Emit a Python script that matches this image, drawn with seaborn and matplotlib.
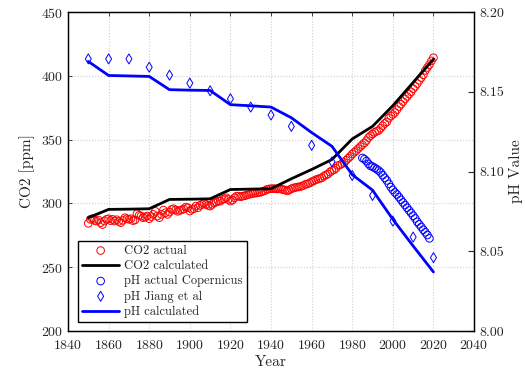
import matplotlib
matplotlib.use("Agg")
import matplotlib.pyplot as plt
import seaborn as sns
import numpy as np

# === Daten ===
years_co2 = list(range(1850, 2021))
co2_actual = [
    284.4, 287.5, 288.0, 286.7, 286.2, 287.0, 284.9, 283.4, 286.2, 287.5,
    288.0, 286.5, 287.5, 286.2, 287.2, 285.9, 284.9, 286.7, 288.8, 288.0,
    287.5, 288.0, 286.5, 287.0, 291.9, 290.6, 290.1, 288.8, 289.3, 290.1,
    288.0, 289.6, 291.4, 293.8, 290.1, 288.8, 291.4, 294.8, 292.7, 291.4,
    293.2, 295.3, 295.8, 294.8, 293.8, 294.5, 295.0, 295.6, 297.1, 296.6,
    294.0, 295.3, 295.8, 297.9, 296.6, 298.4, 299.2, 300.0, 299.2, 298.4,
    297.9, 299.2, 300.5, 301.0, 301.8, 301.8, 303.1, 303.6, 304.4, 303.1,
    301.8, 302.6, 304.4, 305.7, 305.7, 305.2, 305.7, 306.0, 306.5, 307.0,
    307.5, 307.8, 308.0, 308.2, 308.5, 308.8, 309.5, 310.0, 311.0, 311.3,
    311.5, 311.6, 311.5, 311.3, 311.5, 311.2, 310.8, 310.5, 309.8, 310.5,
    311.5, 312.0, 312.5, 312.8, 313.0, 313.5, 314.0, 315.0, 315.3, 316.0,
    317.0, 317.6, 318.5, 319.0, 319.6, 320.0, 321.4, 322.2, 323.0, 324.6,
    325.7, 326.3, 327.5, 329.7, 330.2, 331.1, 332.0, 333.8, 335.4, 336.8,
    338.7, 340.1, 341.4, 343.0, 344.6, 346.0, 347.4, 349.2, 351.6, 353.1,
    354.4, 355.7, 356.5, 357.2, 358.9, 360.9, 362.7, 363.8, 366.8, 368.5,
    369.7, 371.3, 373.5, 375.9, 377.7, 379.8, 381.9, 383.8, 385.6, 387.4,
    389.9, 391.7, 393.9, 396.5, 398.6, 400.8, 404.2, 406.5, 408.7, 411.7,
    414.2,
]

years_calc = [1850, 1860, 1870, 1880, 1890, 1900, 1910, 1920, 1930, 1940,
              1950, 1960, 1970, 1980, 1990, 2000, 2010, 2020]
co2_calc = [288.8, 295.3, 295.5, 295.8, 303.1, 303.3, 303.6, 310.9, 311.2, 311.5,
            319.3, 326.6, 334.4, 350.5, 360.4, 376.6, 394.8, 413.0]
ph_calc = [8.169, 8.1602, 8.1599, 8.1596, 8.1513, 8.1510, 8.1508, 8.1419, 8.1412, 8.1404,
           8.1337, 8.1244, 8.1158, 8.098, 8.0883, 8.070, 8.0533, 8.037]
ph_jiang = [8.1706, 8.1706, 8.1706, 8.1654, 8.1604, 8.1554, 8.1506, 8.1456, 8.1404, 8.1354,
            8.1283, 8.1164, 8.1061, 8.0975, 8.085, 8.0689, 8.0589, 8.046]

years_cop = list(range(1985, 2019))
ph_copernicus = [
    8.1085, 8.1077, 8.1065, 8.1048, 8.1035, 8.1031, 8.1023, 8.1015, 8.1006, 8.0994,
    8.0977, 8.0960, 8.0944, 8.0923, 8.0902, 8.0885, 8.0869, 8.0856, 8.0840, 8.0823,
    8.0806, 8.0790, 8.0773, 8.0756, 8.0740, 8.0723, 8.0706, 8.0685, 8.0669, 8.0652,
    8.0635, 8.0619, 8.0602, 8.0581,
]

# === Plot ===
sns.set_style("white")
plt.rcParams["font.family"] = ["cmr10", "DejaVu Serif"]
plt.rcParams["axes.formatter.use_mathtext"] = True
plt.rcParams["mathtext.fontset"] = "cm"

fig = plt.figure(figsize=(5.25, 3.75), dpi=100)
ax = fig.add_axes([0.1295, 0.1173, 0.7735, 0.8507])
ax2 = ax.twinx()

sns.scatterplot(x=years_co2, y=co2_actual, ax=ax, marker="o", s=30,
                facecolor="none", edgecolor="red", linewidth=0.7, label="CO2 actual")
sns.lineplot(x=years_calc, y=co2_calc, ax=ax, color="black", linewidth=2.0,
             label="CO2 calculated")

sns.scatterplot(x=years_cop, y=ph_copernicus, ax=ax2, marker="o", s=30,
                facecolor="none", edgecolor="blue", linewidth=0.7,
                label="pH actual Copernicus")
sns.scatterplot(x=years_calc, y=ph_jiang, ax=ax2, marker="d", s=26,
                facecolor="none", edgecolor="blue", linewidth=0.7,
                label="pH Jiang et al")
sns.lineplot(x=years_calc, y=ph_calc, ax=ax2, color="blue", linewidth=2.0,
             label="pH calculated")

ax.set_xlim(1840, 2040)
ax.set_ylim(200, 450)
ax2.set_ylim(8.0, 8.2)
ax.set_xticks(np.arange(1840, 2041, 20))
ax.set_yticks(np.arange(200, 451, 50))
ax2.set_yticks([8.0, 8.05, 8.1, 8.15, 8.2])
ax2.set_yticklabels(["8.00", "8.05", "8.10", "8.15", "8.20"])

ax.grid(True, color="#d0d0d0", linestyle=":", linewidth=0.8)
ax.set_axisbelow(True)
ax.tick_params(direction="in", top=True, right=False, labelsize=10, length=3, width=0.6)
ax.tick_params(axis="x", pad=6)
ax2.tick_params(direction="in", labelsize=10, length=4, width=0.8)
for a in (ax, ax2):
    for s in a.spines.values():
        s.set_color("black")
        s.set_linewidth(0.9)

ax.set_xlabel("Year", fontsize=11, labelpad=2)
ax.set_ylabel("CO2 [ppm]", fontsize=11)
ax2.set_ylabel("pH Value", fontsize=11)

h1, l1 = ax.get_legend_handles_labels()
h2, l2 = ax2.get_legend_handles_labels()
if ax2.get_legend():
    ax2.get_legend().remove()
ax.legend(h1 + h2, l1 + l2, loc="lower left", bbox_to_anchor=(0.025, 0.028),
          fontsize=9, frameon=True, fancybox=False, edgecolor="black",
          framealpha=1, handlelength=3, borderpad=0.3, labelspacing=0.25,
          handletextpad=0.4, borderaxespad=0)

fig.savefig("out.png", dpi=100)
